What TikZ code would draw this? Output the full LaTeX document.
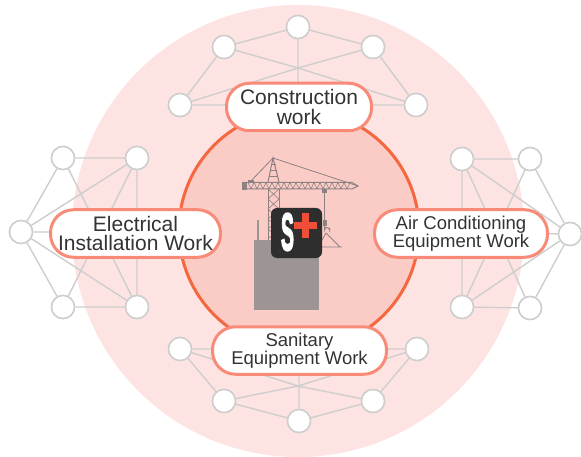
\documentclass[tikz,border=0pt]{standalone}
\usepackage{fontspec}
\setmainfont{Liberation Sans}
\newfontfamily\logofont{Liberation Sans}[UprightFont=*-Bold, FakeBold=3.5]
\definecolor{outerpink}{HTML}{FDE3E1}
\definecolor{innerpink}{HTML}{FBCCC6}
\definecolor{ringred}{HTML}{F4673F}
\definecolor{labelrim}{HTML}{F98A77}
\definecolor{netgray}{HTML}{CECECE}
\definecolor{txtgray}{HTML}{333333}
\definecolor{cranegray}{HTML}{8C8282}
\definecolor{towergray}{HTML}{9D9494}
\definecolor{logodark}{HTML}{2E2E2E}
\definecolor{logored}{HTML}{F04E37}
\tikzset{
  netnode/.style={circle, draw=netgray, fill=white, line width=1.5pt, minimum size=23pt, inner sep=0pt},
  netlink/.style={draw=netgray, line width=1.4pt},
  worklabel/.style={draw=labelrim, fill=white, line width=3pt, rounded corners=23pt,
    inner sep=0pt, align=center, text=txtgray, minimum height=47.5pt},
  bigtext/.style={font=\fontsize{21}{19.5}\selectfont},
  smalltext/.style={font=\fontsize{18.5}{18}\selectfont},
  crane/.style={draw=cranegray, line width=1pt},
}
\begin{document}
\begin{tikzpicture}[x=1pt, y=-1pt]
\useasboundingbox (0,0) rectangle (581,457);
\fill[white] (0,0) rectangle (581,457);

% outer halo
\fill[outerpink] (298,231) circle (226);

% ---------- networks ----------
% top
\node[netnode] (t1) at (180,105) {};
\node[netnode] (t2) at (224,47) {};
\node[netnode] (t3) at (298,27) {};
\node[netnode] (t4) at (373,47) {};
\node[netnode] (t5) at (416,105) {};
\coordinate (th) at (298,68);
\coordinate (tc) at (298,100);
% bottom
\node[netnode] (b1) at (180,349) {};
\node[netnode] (b2) at (224,401) {};
\node[netnode] (b3) at (299,421) {};
\node[netnode] (b4) at (373,401) {};
\node[netnode] (b5) at (417,349) {};
\coordinate (bh) at (298,386);
\coordinate (bc) at (299,352);
% left
\node[netnode] (l1) at (63,158) {};
\node[netnode] (l2) at (137,158) {};
\node[netnode] (l3) at (21,232) {};
\node[netnode] (l4) at (63,307) {};
\node[netnode] (l5) at (137,307) {};
\coordinate (lh) at (100,232);
% right
\node[netnode] (r1) at (462,159) {};
\node[netnode] (r2) at (530,159) {};
\node[netnode] (r3) at (570,234) {};
\node[netnode] (r4) at (462,307) {};
\node[netnode] (r5) at (530,308) {};
\coordinate (rh) at (496,233);

\path[netlink]
  (t1) -- (t2) (t2) -- (t3) (t3) -- (t4) (t4) -- (t5) (t1) -- (t5)
  (t1) -- (th) (t2) -- (th) (t4) -- (th) (t5) -- (th) (t3) -- (tc)
  (b1) -- (b2) (b2) -- (b3) (b3) -- (b4) (b4) -- (b5) (b1) -- (b5)
  (b1) -- (bh) (b2) -- (bh) (b4) -- (bh) (b5) -- (bh) (b3) -- (bc)
  (l1) -- (l2) (l1) -- (l3) (l3) -- (l4) (l4) -- (l5) (l2) -- (l5)
  (l3) -- (l2) (l3) -- (l5) (l1) -- (lh) (l2) -- (lh) (l4) -- (lh) (l5) -- (lh) (l3) -- (lh)
  (r1) -- (r2) (r2) -- (r3) (r3) -- (r5) (r4) -- (r5) (r1) -- (r4)
  (r3) -- (r1) (r3) -- (r4) (r1) -- (rh) (r2) -- (rh) (r4) -- (rh) (r5) -- (rh) (r3) -- (rh);
% redraw the circles over the links
\foreach \n in {t1,t2,t3,t4,t5,b1,b2,b3,b4,b5,l1,l2,l3,l4,l5,r1,r2,r3,r4,r5}
  \draw[netgray, fill=white, line width=1.5pt] (\n.center) circle (11.5);

% inner disc
\draw[ringred, fill=innerpink, line width=3pt] (299,230) circle (120);

% ---------- crane and tower ----------
\fill[towergray] (254,240) rectangle (319,310);
\draw[towergray, line width=2pt] (258,220) -- (258,240);
% mast
\draw[crane] (268,189) -- (268,240) (279,189) -- (279,240);
\foreach \yy in {189,199,209,219,229} {
  \draw[crane, line width=0.6pt] (268,\yy) -- (279,\yy+10) (279,\yy) -- (268,\yy+10);
}
% peak
\draw[crane] (268,182) -- (273,158) -- (279,182);
\draw[crane, line width=0.6pt] (269,176) -- (278,176) (270,170) -- (277,170) (271,164) -- (276,164);
% ties
\draw[crane, line width=0.8pt] (273,158) -- (250,182) (273,158) -- (358,186);
% jib
\draw[crane] (244,182.5) -- (352,182.5) -- (358,186) -- (352,189) -- (244,189);
\foreach \xx in {248,254,...,348} {
  \draw[crane, line width=0.6pt] (\xx,182.5) -- (\xx+3,189) -- (\xx+6,182.5);
}
\fill[cranegray] (242,182) rectangle (247,190);
\fill[cranegray] (248,180.5) rectangle (254,183);
% trolley, cable and hook
\fill[cranegray] (322,189) rectangle (327,193);
\draw[crane, line width=0.8pt] (324.5,193) -- (324.5,222);
\fill[cranegray] (322.5,220) rectangle (326.5,226);
\draw[crane, line width=1pt] (324.5,226) -- (324.5,230) arc[start angle=180, end angle=360, radius=2.5] -- (329.5,228);
\draw[crane, line width=0.8pt] (326,233) -- (340,247) (326,233) -- (318,247) (316,247) -- (342,247);

% logo
\fill[logodark, rounded corners=6pt] (271,208) rectangle (322,258);
\node[inner sep=0pt, text=white] (logoS) at (287.5,232)
  {\resizebox{13pt}{37pt}{\logofont S}};
\fill[logored] (294,222) rectangle (317,229);
\fill[logored] (302,213) rectangle (309,238);

% ---------- work labels ----------
\node[worklabel, bigtext, minimum width=145pt] (construction) at (299,107)
  {Construction\\work};
\node[worklabel, bigtext, minimum width=170pt] (electrical) at (135.5,233.5)
  {Electrical\\Installation Work};
\node[worklabel, smalltext, minimum width=173pt] (aircon) at (461,233.5)
  {Air Conditioning\\Equipment Work};
\node[worklabel, smalltext, minimum width=174pt] (sanitary) at (299.5,350.5)
  {Sanitary\\Equipment Work};
\end{tikzpicture}
\end{document}
